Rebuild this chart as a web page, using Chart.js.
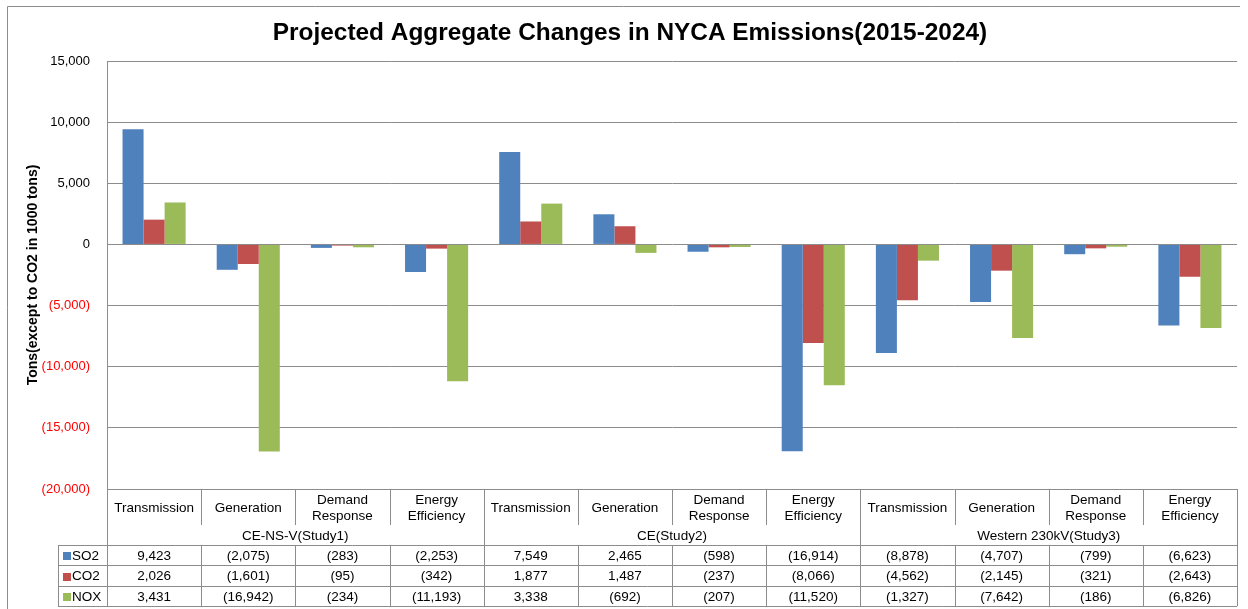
<!DOCTYPE html>
<html>
<head>
<meta charset="utf-8">
<script src="https://cdn.jsdelivr.net/npm/chart.js@4.4.1/dist/chart.umd.min.js"></script>
<style>
  html, body { margin: 0; padding: 0; background: #fff; }
</style>
</head>
<body>
<canvas id="emissions" width="1248" height="609"></canvas>
<script>
var categories = ['Transmission', 'Generation', 'Demand\nResponse', 'Energy\nEfficiency',
  'Transmission', 'Generation', 'Demand\nResponse', 'Energy\nEfficiency',
  'Transmission', 'Generation', 'Demand\nResponse', 'Energy\nEfficiency'];
var studies = ['CE-NS-V(Study1)', 'CE(Study2)', 'Western 230kV(Study3)'];
var seriesNames = ['SO2', 'CO2', 'NOX'];
var so2 = [9423, -2075, -283, -2253, 7549, 2465, -598, -16914, -8878, -4707, -799, -6623];
var co2 = [2026, -1601, -95, -342, 1877, 1487, -237, -8066, -4562, -2145, -321, -2643];
var nox = [3431, -16942, -234, -11193, 3338, -692, -207, -11520, -1327, -7642, -186, -6826];
var yMin = -20000, yMax = 15000, yStep = 5000;

var colors = ['#4F81BD', '#C0504D', '#9BBB59'];
var lineColor = '#8c8c8c';
var FONT = '"Liberation Sans", Arial, sans-serif';
Chart.defaults.font.family = FONT;

function fmt(v) {
  var s = Math.abs(v).toLocaleString('en-US');
  return v < 0 ? '(' + s + ')' : s;
}

// frame, title and the data table under the plot
var tablePlugin = {
  id: 'tablePlugin',
  afterDraw: function(chart) {
    var ctx = chart.ctx, area = chart.chartArea, xs = chart.scales.x;
    var n = categories.length;
    var cw = (area.right - area.left) / n;
    var top = area.bottom;
    var catBottom = top + 36, grpBottom = top + 56, rowH = 20.4;
    var legLeft = 58;
    var values = [so2, co2, nox];

    ctx.save();
    ctx.strokeStyle = lineColor;
    ctx.lineWidth = 1;

    // outer frame
    ctx.beginPath();
    ctx.moveTo(7.5, 609); ctx.lineTo(7.5, 6.5); ctx.lineTo(1240, 6.5);
    ctx.stroke();

    function vline(x, y1, y2) {
      x = Math.round(x) + 0.5;
      ctx.beginPath(); ctx.moveTo(x, y1); ctx.lineTo(x, y2); ctx.stroke();
    }
    function hline(y, x1, x2) {
      y = Math.round(y) + 0.5;
      ctx.beginPath(); ctx.moveTo(x1, y); ctx.lineTo(x2, y); ctx.stroke();
    }

    var rowsBottom = grpBottom + rowH * 3;
    for (var i = 0; i <= n; i++) {
      var bx = area.left + i * cw;
      if (i % 4 === 0) vline(bx, top, rowsBottom);
      else { vline(bx, top, catBottom); vline(bx, grpBottom, rowsBottom); }
    }
    vline(legLeft, grpBottom, rowsBottom);
    for (var r = 0; r <= 3; r++) hline(grpBottom + r * rowH, legLeft, area.right);

    ctx.fillStyle = '#000';
    ctx.textAlign = 'center';
    ctx.textBaseline = 'middle';
    ctx.font = '13.5px ' + FONT;

    // category labels
    for (var c = 0; c < n; c++) {
      var cx = xs.getPixelForValue(c);
      var parts = categories[c].split('\n');
      var mid = (top + catBottom) / 2 + 1.5;
      if (parts.length === 1) ctx.fillText(parts[0], cx, mid);
      else {
        ctx.fillText(parts[0], cx, mid - 8);
        ctx.fillText(parts[1], cx, mid + 8);
      }
    }
    // study labels
    for (var g = 0; g < studies.length; g++) {
      var gx = area.left + (g * 4 + 2) * cw;
      ctx.fillText(studies[g], gx, (catBottom + grpBottom) / 2 + 1.5);
    }
    // value rows
    for (var s = 0; s < 3; s++) {
      var ry = grpBottom + s * rowH + rowH / 2 + 1;
      for (var k = 0; k < n; k++) {
        ctx.fillText(fmt(values[s][k]), xs.getPixelForValue(k), ry);
      }
      ctx.fillStyle = colors[s];
      ctx.fillRect(63, Math.round(ry) - 4, 8, 8);
      ctx.fillStyle = '#000';
      ctx.textAlign = 'left';
      ctx.fillText(seriesNames[s], 72, ry);
      ctx.textAlign = 'center';
    }

    // title
    ctx.font = 'bold 24.4px ' + FONT;
    ctx.fillText('Projected Aggregate Changes in NYCA Emissions(2015-2024)', 630, 33);
    ctx.restore();
  }
};

new Chart(document.getElementById('emissions').getContext('2d'), {
  type: 'bar',
  data: {
    labels: categories,
    datasets: [
      { label: seriesNames[0], data: so2, backgroundColor: colors[0] },
      { label: seriesNames[1], data: co2, backgroundColor: colors[1] },
      { label: seriesNames[2], data: nox, backgroundColor: colors[2] }
    ]
  },
  options: {
    responsive: false,
    animation: false,
    barPercentage: 1,
    categoryPercentage: 0.67,
    layout: { padding: { left: 0, right: 11, top: 61, bottom: 120 } },
    plugins: {
      legend: { display: false },
      title: { display: false },
      tooltip: { enabled: false }
    },
    scales: {
      x: { display: false },
      y: {
        min: yMin,
        max: yMax,
        afterFit: function(scale) { scale.width = 107; },
        ticks: {
          stepSize: yStep,
          padding: 17,
          font: { size: 13 },
          color: function(c) { return c.tick && c.tick.value < 0 ? '#FF0000' : '#000'; },
          callback: function(v) { return fmt(v); }
        },
        grid: { color: lineColor, drawTicks: false, tickLength: 0 },
        border: { display: true, color: lineColor },
        title: {
          display: true,
          text: 'Tons(except to CO2 in 1000 tons)',
          color: '#000',
          font: { size: 14, weight: 'bold' },
          padding: { top: 25, bottom: 0 }
        }
      }
    }
  },
  plugins: [tablePlugin]
});
</script>
</body>
</html>
